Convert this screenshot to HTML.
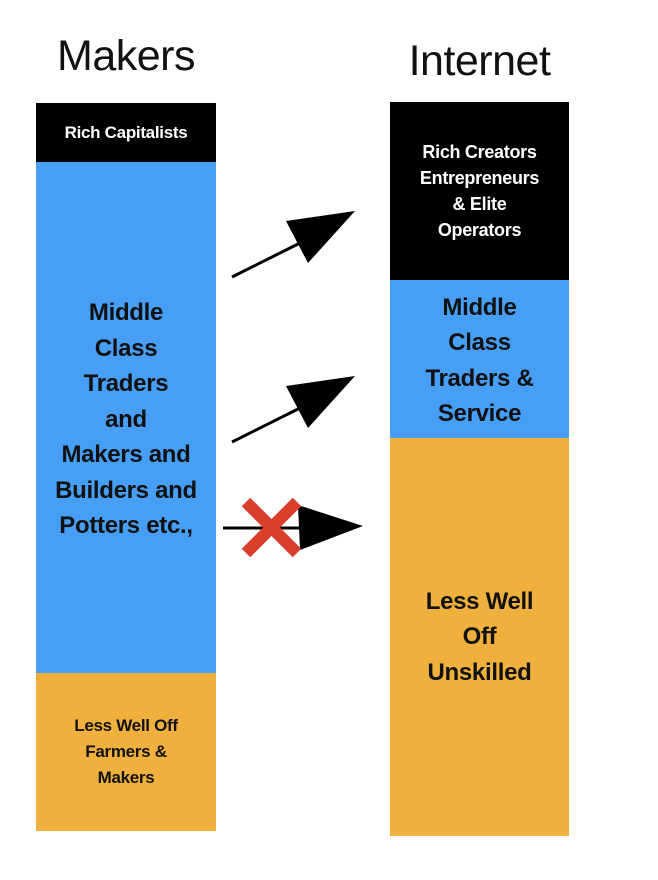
<!DOCTYPE html>
<html><head><style>
body{margin:0;width:658px;height:880px;background:#fff;position:relative;overflow:hidden;font-family:"Liberation Sans",sans-serif}
.t{position:absolute;font-size:43px;color:#111;text-align:center;letter-spacing:-0.5px}
.b{position:absolute;display:flex;align-items:center;justify-content:center;text-align:center;font-weight:bold;color:#111;letter-spacing:-0.3px}
.k{background:#000;color:#fff}
.bl{background:#479ef5}
.o{background:#f0b03d}
</style></head><body>
<div class="t" style="left:26px;width:200px;top:32px">Makers</div>
<div class="t" style="left:380px;width:199px;top:37px">Internet</div>

<div class="b k" style="left:36px;top:103px;width:180px;height:59px;font-size:17px">Rich Capitalists</div>
<div class="b bl" style="left:36px;top:162px;width:180px;height:511px;font-size:24px;line-height:35.5px;padding-top:4px;box-sizing:border-box">Middle<br>Class<br>Traders<br>and<br>Makers and<br>Builders and<br>Potters etc.,</div>
<div class="b o" style="left:36px;top:673px;width:180px;height:158px;font-size:17px;line-height:26px">Less Well Off<br>Farmers &amp;<br>Makers</div>

<div class="b k" style="left:390px;top:102px;width:179px;height:178px;font-size:18px;line-height:26px">Rich Creators<br>Entrepreneurs<br>&amp; Elite<br>Operators</div>
<div class="b bl" style="left:390px;top:280px;width:179px;height:158px;font-size:24px;line-height:35.5px;padding-top:3px;box-sizing:border-box">Middle<br>Class<br>Traders &amp;<br>Service</div>
<div class="b o" style="left:390px;top:438px;width:179px;height:398px;font-size:24px;line-height:35.5px">Less Well<br>Off<br>Unskilled</div>

<svg width="658" height="880" style="position:absolute;left:0;top:0">
<line x1="232" y1="277" x2="300" y2="243" stroke="#000" stroke-width="3"/>
<polygon points="286,221 355,211 308,263" fill="#000"/>
<line x1="232" y1="442" x2="300" y2="408" stroke="#000" stroke-width="3"/>
<polygon points="286,386 355,376 308,428" fill="#000"/>
<line x1="223" y1="528" x2="300" y2="528" stroke="#000" stroke-width="3"/>
<polygon points="298,505 363,526 300,550" fill="#000"/>
<line x1="246" y1="502" x2="297" y2="553" stroke="#d9402b" stroke-width="12"/>
<line x1="297" y1="502" x2="246" y2="553" stroke="#d9402b" stroke-width="12"/>
</svg>
</body></html>
